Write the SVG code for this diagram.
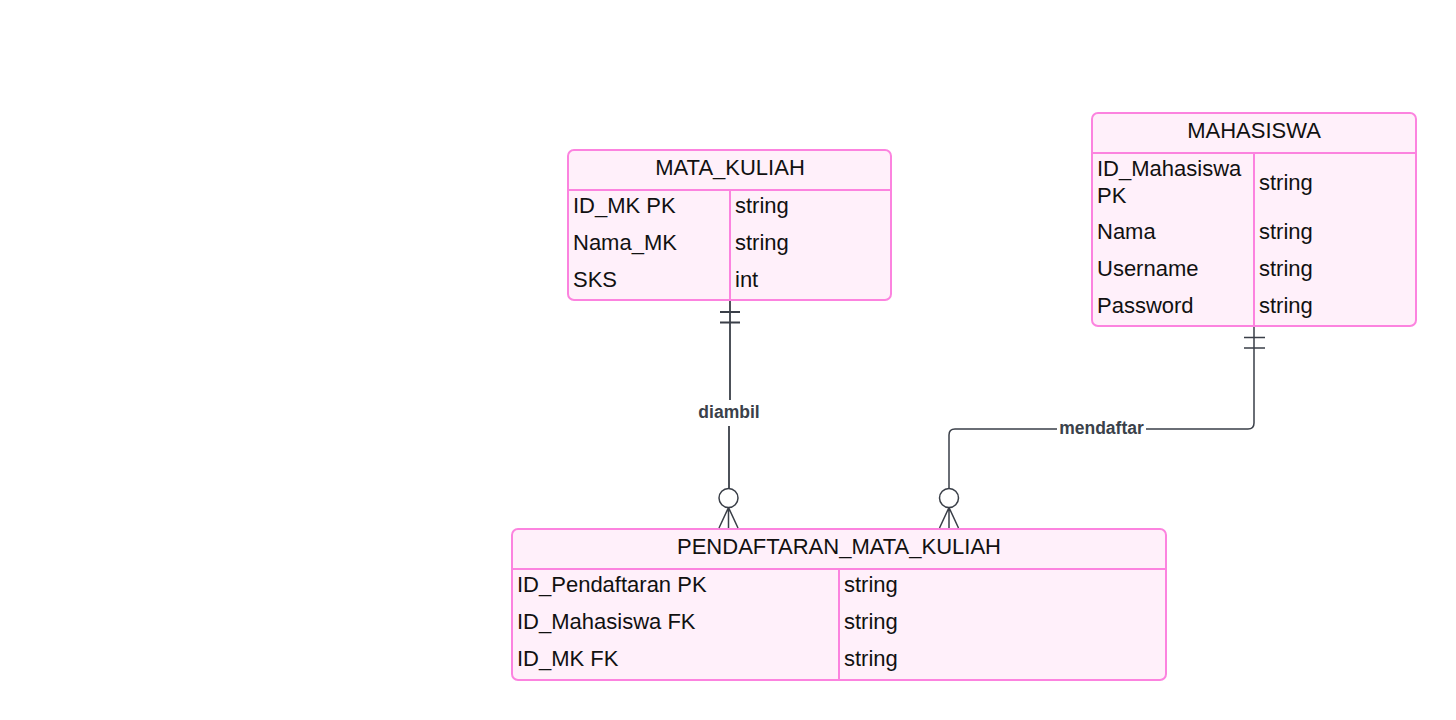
<svg xmlns="http://www.w3.org/2000/svg" width="1456" height="720" viewBox="0 0 1456 720">
<style>
.box{fill:#fff0fa;stroke:#fc83df;stroke-width:2}
.sep{stroke:#fc83df;stroke-width:2;fill:none}
.t{font-family:"Liberation Sans",Arial,sans-serif;font-size:22px;fill:#111}
.h{text-anchor:middle}
.ln{stroke:#3a3f48;stroke-width:1.8;fill:none}
.ft{stroke:#3a3f48;stroke-width:1.5;fill:none}
.lbl{font-family:"Liberation Sans",Arial,sans-serif;font-size:17.5px;font-weight:bold;fill:#3a414a;text-anchor:middle}
</style>
<rect width="1456" height="720" fill="#ffffff"/>
<g id="mata_kuliah">
<rect class="box" x="568" y="150" width="323" height="150" rx="6"/>
<line class="sep" x1="568" y1="190" x2="891" y2="190"/>
<line class="sep" x1="730" y1="190" x2="730" y2="300"/>
<text class="t h" x="730" y="175">MATA_KULIAH</text>
<text class="t" x="573" y="213">ID_MK PK</text><text class="t" x="735" y="213">string</text>
<text class="t" x="573" y="250">Nama_MK</text><text class="t" x="735" y="250">string</text>
<text class="t" x="573" y="287">SKS</text><text class="t" x="735" y="287">int</text>
</g>
<g id="mahasiswa">
<rect class="box" x="1092" y="113" width="324" height="213" rx="6"/>
<line class="sep" x1="1092" y1="153" x2="1416" y2="153"/>
<line class="sep" x1="1254" y1="153" x2="1254" y2="326"/>
<text class="t h" x="1254" y="138">MAHASISWA</text>
<text class="t" x="1097" y="176">ID_Mahasiswa</text><text class="t" x="1097" y="203">PK</text><text class="t" x="1259" y="190">string</text>
<text class="t" x="1097" y="239">Nama</text><text class="t" x="1259" y="239">string</text>
<text class="t" x="1097" y="276">Username</text><text class="t" x="1259" y="276">string</text>
<text class="t" x="1097" y="313">Password</text><text class="t" x="1259" y="313">string</text>
</g>
<g id="pendaftaran_mata_kuliah">
<rect class="box" x="512" y="529" width="654" height="151" rx="6"/>
<line class="sep" x1="512" y1="569" x2="1166" y2="569"/>
<line class="sep" x1="839" y1="569" x2="839" y2="680"/>
<text class="t h" x="839" y="554">PENDAFTARAN_MATA_KULIAH</text>
<text class="t" x="517" y="592">ID_Pendaftaran PK</text><text class="t" x="844" y="592">string</text>
<text class="t" x="517" y="629">ID_Mahasiswa FK</text><text class="t" x="844" y="629">string</text>
<text class="t" x="517" y="666">ID_MK FK</text><text class="t" x="844" y="666">string</text>
</g>
<g id="connectors">
<path class="ln" d="M730 301 V400 M729 426 V488"/>
<path class="ln" d="M720 312 H740 M720 322.5 H740"/>
<circle class="ft" cx="728.5" cy="498" r="9.5"/>
<path class="ft" d="M728.5 507.5 L719 528 M728.5 507.5 V528 M728.5 507.5 L738 528"/>
<text class="lbl" x="729" y="418">diambil</text>
<path class="ft" d="M1254 327 V423 Q1254 429 1248 429 H1146 M1057 429 H955 Q949 429 949 435 V488"/>
<path class="ft" d="M1244 337.5 H1265 M1244 348 H1265"/>
<circle class="ft" cx="949" cy="498" r="9.5"/>
<path class="ft" d="M949 507.5 L939.5 528 M949 507.5 V528 M949 507.5 L958.5 528"/>
<text class="lbl" x="1101.5" y="434">mendaftar</text>
</g>
</svg>
